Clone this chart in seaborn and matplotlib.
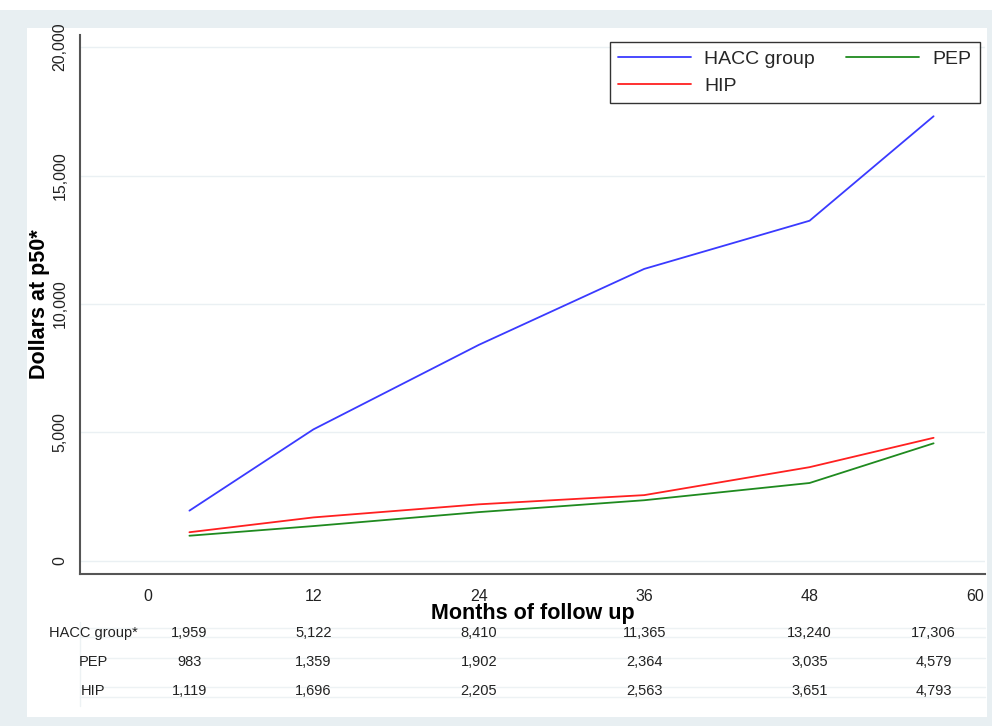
import pandas as pd
import seaborn as sns
import matplotlib.pyplot as plt
from matplotlib.lines import Line2D
from matplotlib.patches import Rectangle

# Data (median cost, dollars)
months = [3, 12, 24, 36, 48, 57]
hacc = [1959, 5122, 8410, 11365, 13240, 17306]
pep = [983, 1359, 1902, 2364, 3035, 4579]
hip = [1119, 1696, 2205, 2563, 3651, 4793]

groups = ['HACC group', 'PEP', 'HIP']
row_labels = ['HACC group*', 'PEP', 'HIP']
colors = {'HACC group': '#3a3aff', 'PEP': '#1f8a1f', 'HIP': '#ff2020'}
x_ticks = [0, 12, 24, 36, 48, 60]
y_ticks = [0, 5000, 10000, 15000, 20000]

df = pd.DataFrame({
    'month': months * 3,
    'cost': hacc + pep + hip,
    'group': ['HACC group'] * 6 + ['PEP'] * 6 + ['HIP'] * 6,
})

sns.set_style("white")
plt.rcParams['font.family'] = ['Liberation Sans', 'DejaVu Sans']

W, H = 992, 726
fig = plt.figure(figsize=(W / 100, H / 100), dpi=100)
fig.patch.set_facecolor('white')

# Stata style background panels
fig.patches.append(Rectangle((0, 0), 1, 1 - 10 / H, transform=fig.transFigure,
                             facecolor='#e8eff2', edgecolor='none', zorder=-10))
fig.patches.append(Rectangle((27 / W, 1 - 717 / H), (987 - 27) / W, (717 - 28) / H,
                             transform=fig.transFigure, facecolor='white',
                             edgecolor='none', zorder=-9))

ax = fig.add_axes([80 / W, 1 - 574 / H, (985 - 80) / W, (574 - 35) / H])
ax.set_facecolor('white')

sns.lineplot(ax=ax, data=df, x='month', y='cost', hue='group',
             palette=colors, linewidth=1.3, legend=False)

ax.set_xlim(-4.94, 60.73)
ax.set_ylim(-506, 20467)
ax.set_xticks(x_ticks)
ax.set_yticks(y_ticks)
ax.set_yticklabels(['{:,}'.format(v) for v in y_ticks], rotation=90, va='center')
ax.yaxis.grid(True, color='#eaf0f3', linewidth=1)
ax.xaxis.grid(False)
ax.set_axisbelow(True)

for s in ['top', 'right']:
    ax.spines[s].set_visible(False)
for s in ['left', 'bottom']:
    ax.spines[s].set_color('#555555')
    ax.spines[s].set_linewidth(1.5)
ax.tick_params(axis='both', direction='out', length=6, width=1, color='#333333',
               labelsize=11.5, labelcolor='#222222')
ax.tick_params(axis='y', pad=3)
ax.tick_params(axis='x', pad=5)

ax.set_ylabel('Dollars at p50*', fontsize=15.5, fontweight='bold', color='black')
ax.yaxis.set_label_coords(-30 / 905, 0.5)
ax.set_xlabel('Months of follow up', fontsize=15.5, fontweight='bold', color='black')
ax.xaxis.set_label_coords(0.5, -(603 - 574) / 539)

# Legend
handles = [Line2D([], [], color=colors[g], linewidth=1.3) for g in ['HACC group', 'HIP', 'PEP']]
leg = ax.legend(handles, ['HACC group', 'HIP', 'PEP'], ncol=2, loc='upper right',
                bbox_to_anchor=(980 / W, 1 - 42 / H), bbox_transform=fig.transFigure,
                fontsize=14, handlelength=3.75, handletextpad=0.7, columnspacing=1.6,
                frameon=True, fancybox=False, edgecolor='black', borderpad=0.42,
                labelspacing=0.5, borderaxespad=0)
leg.get_frame().set_linewidth(1.0)
leg.get_frame().set_facecolor('white')

# faint table rules
for yp in [628, 637, 658, 687, 697]:
    fig.add_artist(Line2D([80 / W, 985 / W], [1 - yp / H, 1 - yp / H],
                          transform=fig.transFigure, color='#edf2f4', linewidth=1, zorder=0))
fig.add_artist(Line2D([80 / W, 80 / W], [1 - 622 / H, 1 - 706 / H],
                      transform=fig.transFigure, color='#edf2f4', linewidth=1, zorder=0))

# Table of values under the x axis
table = [hacc, pep, hip]
row_y = [633, 662, 691]
for label, vals, yp in zip(row_labels, table, row_y):
    fig.text(93 / W, 1 - yp / H, label, ha='center', va='center', fontsize=10.5, color='#222222')
    for m, v in zip(months, vals):
        xf = ax.transData.transform((m, 0))[0] / W
        fig.text(xf, 1 - yp / H, '{:,}'.format(v), ha='center', va='center',
                 fontsize=10.5, color='#222222')

plt.savefig('out.png', dpi=100)
